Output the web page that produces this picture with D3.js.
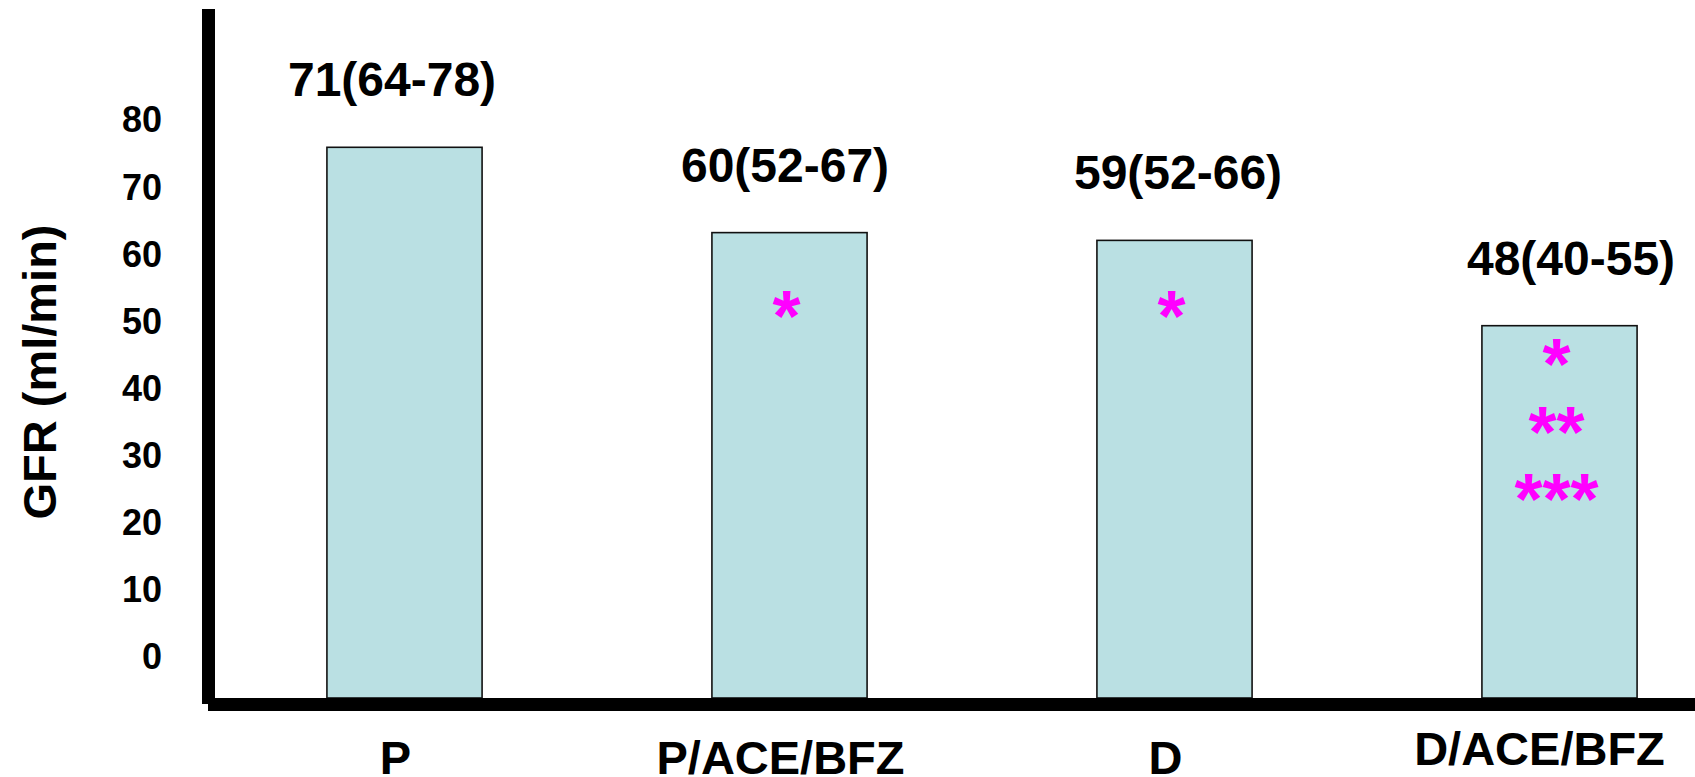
<!DOCTYPE html>
<html>
<head>
<meta charset="utf-8">
<script src="https://cdn.jsdelivr.net/npm/d3@7"></script>
<style>
  html, body { margin: 0; padding: 0; background: #fff; }
  svg { display: block; }
  text { font-family: "Liberation Sans", Arial, Helvetica, sans-serif; font-weight: bold; fill: #000; }
</style>
</head>
<body>
<svg id="chart" width="1695" height="777"></svg>
<script>
// ---- data ----
const categories = ["P", "P/ACE/BFZ", "D", "D/ACE/BFZ"];
const gfrMedian = [71, 60, 59, 48];
const gfrLow = [64, 52, 52, 40];
const gfrHigh = [78, 67, 66, 55];
const significance = [[], ["*"], ["*"], ["*", "**", "***"]];
const yTickValues = [0, 10, 20, 30, 40, 50, 60, 70, 80];
const yTitle = "GFR (ml/min)";

// ---- layout ----
const W = 1695, H = 777;
const baseY = 698;
const svg = d3.select("#chart");

const x = d3.scaleBand()
  .domain(categories)
  .range([212, 1752])
  .paddingInner(0.597)
  .paddingOuter(0.2985);

// value labels on the slide are spread slightly wider than the bars
const xLabel = d3.scalePoint().domain(categories).range([392, 1571]);

const y = d3.scaleLinear()
  .domain([0, d3.max(gfrMedian)])
  .range([baseY, 147.3]);

// tick labels sit on their own (offset) scale, as in the original slide
const yLabels = d3.scaleLinear().domain([0, 80]).range([656, 119]);

// bars
svg.append("g").selectAll("rect")
  .data(categories)
  .join("rect")
  .attr("x", d => x(d))
  .attr("width", x.bandwidth())
  .attr("y", (d, i) => y(gfrMedian[i]))
  .attr("height", (d, i) => baseY - y(gfrMedian[i]))
  .attr("fill", "#bae0e3")
  .attr("stroke", "#111")
  .attr("stroke-width", 1.6);

// value labels
svg.append("g").selectAll("text")
  .data(categories)
  .join("text")
  .attr("x", d => xLabel(d))
  .attr("y", (d, i) => y(gfrMedian[i]) - 51)
  .attr("text-anchor", "middle")
  .attr("font-size", 48)
  .text((d, i) => `${gfrMedian[i]}(${gfrLow[i]}-${gfrHigh[i]})`);

// significance stars
const starSize = 72;
const starG = svg.append("g");
categories.forEach((c, i) => {
  const rows = significance[i];
  if (!rows.length) return;
  const firstLevel = rows.length === 1 ? 51.2 : 45;
  rows.forEach((s, r) => {
    const cy = y(firstLevel) + r * 67.5;
    starG.append("text")
      .attr("x", x(c) + x.bandwidth() / 2 - 3)
      .attr("y", cy + 0.56 * starSize)
      .attr("text-anchor", "middle")
      .attr("font-size", starSize)
      .style("fill", "#ff00ff")
      .text(s);
  });
});

// y tick labels
const yAxis = d3.axisLeft(yLabels).tickValues(yTickValues).tickSize(0).tickPadding(0);
const gy = svg.append("g").attr("transform", "translate(162,0)").call(yAxis);
gy.select(".domain").remove();
gy.selectAll("text")
  .attr("font-size", 36)
  .attr("dy", "0.36em")
  .style("font-family", "'Liberation Sans', Arial, sans-serif")
  .style("font-weight", "bold")
  .style("fill", "#000");

// x category labels
const xAxis = d3.axisBottom(x).tickSize(0).tickPadding(0);
const gx = svg.append("g").attr("transform", `translate(0,${baseY})`).call(xAxis);
gx.select(".domain").remove();
gx.selectAll("text")
  .attr("font-size", 47)
  .attr("dy", 0)
  .attr("dx", (d, i) => i === categories.length - 1 ? -20 : -9)
  .attr("y", (d, i) => i === categories.length - 1 ? 67 : 76)
  .style("font-family", "'Liberation Sans', Arial, sans-serif")
  .style("font-weight", "bold")
  .style("fill", "#000");

// axis lines
svg.append("line")
  .attr("x1", 208.5).attr("x2", 208.5)
  .attr("y1", 9).attr("y2", 704)
  .attr("stroke", "#000").attr("stroke-width", 13);
svg.append("line")
  .attr("x1", 208).attr("x2", W)
  .attr("y1", 704.5).attr("y2", 704.5)
  .attr("stroke", "#000").attr("stroke-width", 13);

// y title
svg.append("text")
  .attr("transform", "translate(56,372) rotate(-90)")
  .attr("text-anchor", "middle")
  .attr("font-size", 47)
  .text(yTitle);
</script>
</body>
</html>
